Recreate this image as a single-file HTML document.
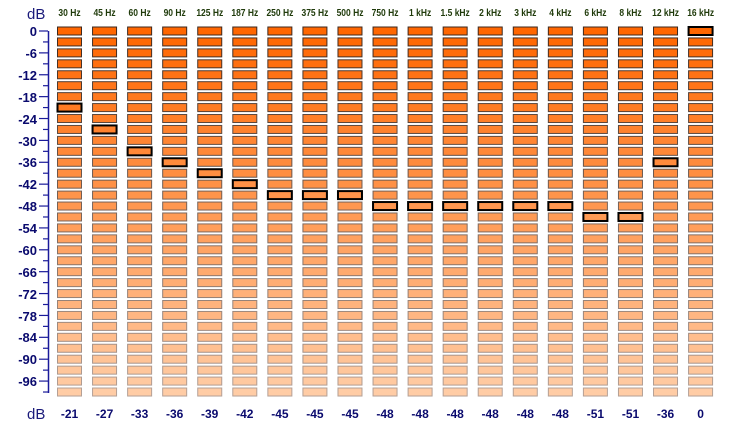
<!DOCTYPE html>
<html><head><style>
html,body{margin:0;padding:0;background:#fff;}
svg{display:block;}
.yl{font:bold 13px "Liberation Sans",sans-serif;fill:#0a0a6e;text-anchor:end;}
.fl{font:bold 10px "Liberation Sans",sans-serif;fill:#1f3a0a;text-anchor:middle;}
.bl{font:bold 12px "Liberation Sans",sans-serif;fill:#0a0a6e;text-anchor:middle;}
.db{font:15px "Liberation Sans",sans-serif;fill:#1a1a7a;}
</style></head><body>
<svg id="s" width="735" height="437" xmlns="http://www.w3.org/2000/svg">
<text class="db" x="27" y="19">dB</text>
<text class="db" x="27" y="419">dB</text>
<g class="yl">
<text x="37" y="36">0</text><text x="37" y="58">-6</text><text x="37" y="80">-12</text><text x="37" y="102">-18</text>
<text x="37" y="124">-24</text><text x="37" y="146">-30</text><text x="37" y="167">-36</text><text x="37" y="189">-42</text>
<text x="37" y="211">-48</text><text x="37" y="233">-54</text><text x="37" y="255">-60</text><text x="37" y="277">-66</text>
<text x="37" y="299">-72</text><text x="37" y="321">-78</text><text x="37" y="342">-84</text><text x="37" y="364">-90</text>
<text x="37" y="386">-96</text>
</g>
<g class="fl" transform="scale(0.85,1)">
<text x="81.8" y="16">30 Hz</text><text x="123" y="16">45 Hz</text><text x="164.3" y="16">60 Hz</text><text x="205.5" y="16">90 Hz</text>
<text x="246.8" y="16">125 Hz</text><text x="288" y="16">187 Hz</text><text x="329.3" y="16">250 Hz</text><text x="370.5" y="16">375 Hz</text>
<text x="411.8" y="16">500 Hz</text><text x="453" y="16">750 Hz</text><text x="494.3" y="16">1 kHz</text><text x="535.5" y="16">1.5 kHz</text>
<text x="576.8" y="16">2 kHz</text><text x="618" y="16">3 kHz</text><text x="659.3" y="16">4 kHz</text><text x="700.5" y="16">6 kHz</text>
<text x="741.8" y="16">8 kHz</text><text x="783" y="16">12 kHz</text><text x="824.3" y="16">16 kHz</text>
</g>
<g class="bl">
<text x="69.5" y="418">-21</text><text x="104.6" y="418">-27</text><text x="139.6" y="418">-33</text><text x="174.7" y="418">-36</text>
<text x="209.7" y="418">-39</text><text x="244.8" y="418">-42</text><text x="279.9" y="418">-45</text><text x="314.9" y="418">-45</text>
<text x="350" y="418">-45</text><text x="385" y="418">-48</text><text x="420.1" y="418">-48</text><text x="455.2" y="418">-48</text>
<text x="490.2" y="418">-48</text><text x="525.3" y="418">-48</text><text x="560.3" y="418">-48</text><text x="595.4" y="418">-51</text>
<text x="630.5" y="418">-51</text><text x="665.5" y="418">-36</text><text x="700.6" y="418">0</text>
</g>
</svg>
<script>
var s=document.getElementById('s'),ns='http://www.w3.org/2000/svg';
var vals=[-21,-27,-33,-36,-39,-42,-45,-45,-45,-48,-48,-48,-48,-48,-48,-51,-51,-36,0];
function el(t,a){var e=document.createElementNS(ns,t);for(var k in a)e.setAttribute(k,a[k]);s.appendChild(e);return e;}
var rh=10.94;
el('line',{x1:48.5,y1:31,x2:48.5,y2:393,stroke:'#1a1a9a','stroke-width':1.5});
for(var i=0;i<34;i++){var y=31+i*rh;el('line',{x1:(i%2?43:39),y1:y,x2:48,y2:y,stroke:'#1a1a9a','stroke-width':1.2});}
for(var i=0;i<34;i++){
 var t=i/33;
 var g=Math.round(102+t*(204-102)),b=Math.round(0+t*165);
 var bc=Math.round(40+t*120);
 var fill='rgb(255,'+g+','+b+')',stroke='rgb('+(bc+20)+','+bc+','+(bc-10)+')';
 for(var j=0;j<19;j++){
  var cx=69.5+j*35.06,cy=31+i*rh;
  var sel=(-vals[j]/3)==i;
  el('rect',{x:cx-12,y:cy-4,width:24,height:8,fill:fill,stroke:sel?'#000':stroke,'stroke-width':sel?2:1});
 }
}
</script>
</body></html>
